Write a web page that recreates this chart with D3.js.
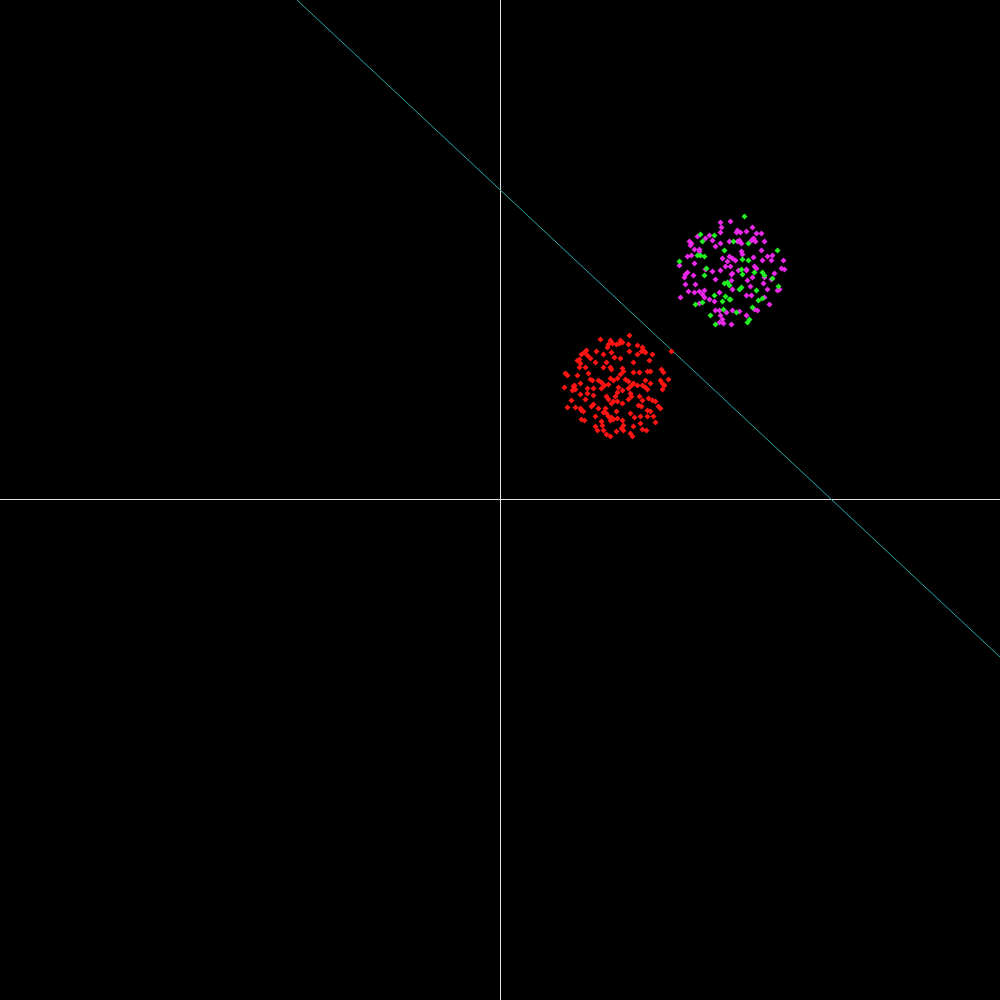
<!DOCTYPE html>
<html><head><meta charset="utf-8">
<script src="https://cdn.jsdelivr.net/npm/d3@7"></script>
<style>html,body{margin:0;padding:0;background:#000;}svg{display:block;}</style>
</head><body>
<svg id="chart" width="1000" height="1000"></svg>
<script>
// Class A (red)
const redPoints = [
[0.200,0.322],[0.220,0.320],[0.216,0.312],[0.224,0.314],[0.214,0.306],[0.232,0.312],[0.172,0.300],[0.168,0.296],[0.162,0.292],[0.192,0.298],
[0.206,0.292],[0.222,0.296],[0.228,0.286],[0.174,0.290],[0.180,0.284],[0.154,0.280],[0.160,0.274],[0.158,0.282],[0.190,0.276],[0.212,0.276],
[0.220,0.266],[0.222,0.262],[0.206,0.266],[0.170,0.266],[0.158,0.266],[0.130,0.254],[0.134,0.250],[0.154,0.250],[0.176,0.254],[0.160,0.234],
[0.180,0.242],[0.184,0.240],[0.196,0.240],[0.202,0.236],[0.220,0.244],[0.226,0.240],[0.148,0.230],[0.208,0.230],[0.216,0.232],
[0.258,0.330],[0.240,0.320],[0.238,0.314],[0.244,0.316],[0.256,0.312],[0.274,0.310],[0.284,0.306],[0.286,0.300],[0.290,0.296],[0.282,0.298],
[0.258,0.298],[0.274,0.292],[0.304,0.292],[0.298,0.280],[0.240,0.284],[0.266,0.276],[0.342,0.298],[0.244,0.264],[0.246,0.258],[0.240,0.252],
[0.266,0.256],[0.278,0.256],[0.294,0.258],[0.300,0.258],[0.322,0.262],[0.326,0.256],[0.250,0.242],[0.256,0.238],[0.290,0.240],[0.320,0.240],
[0.336,0.242],[0.266,0.234],[0.274,0.230],[0.300,0.234],[0.324,0.234],[0.234,0.244],
[0.128,0.226],[0.146,0.228],[0.150,0.222],[0.144,0.220],[0.174,0.224],[0.186,0.224],[0.202,0.224],[0.160,0.212],[0.174,0.214],[0.186,0.210],
[0.212,0.208],[0.216,0.202],[0.230,0.208],[0.142,0.200],[0.170,0.202],[0.186,0.192],[0.182,0.188],[0.196,0.184],[0.210,0.184],[0.222,0.194],
[0.226,0.198],[0.134,0.186],[0.150,0.186],[0.160,0.184],[0.166,0.178],[0.162,0.180],[0.212,0.174],[0.216,0.168],[0.222,0.166],[0.226,0.162],
[0.190,0.168],[0.206,0.176],[0.232,0.178],[0.162,0.162],[0.168,0.160],[0.202,0.158],[0.204,0.150],[0.220,0.160],[0.190,0.148],[0.194,0.140],
[0.206,0.140],[0.212,0.132],[0.220,0.128],[0.232,0.138],
[0.236,0.226],[0.244,0.220],[0.256,0.224],[0.262,0.230],[0.284,0.230],[0.290,0.226],[0.294,0.222],[0.324,0.222],[0.328,0.230],[0.234,0.216],
[0.260,0.214],[0.262,0.208],[0.278,0.208],[0.296,0.204],[0.304,0.200],[0.310,0.198],[0.284,0.200],[0.256,0.202],[0.234,0.198],[0.244,0.194],
[0.276,0.190],[0.282,0.188],[0.316,0.188],[0.320,0.184],[0.294,0.180],[0.300,0.178],[0.260,0.174],[0.280,0.168],[0.268,0.166],[0.294,0.168],
[0.306,0.168],[0.310,0.156],[0.234,0.164],[0.244,0.160],[0.246,0.150],[0.242,0.144],[0.246,0.140],[0.266,0.148],[0.280,0.154],[0.284,0.142],
[0.260,0.134],[0.264,0.128],[0.292,0.140]
];
// Class B (magenta)
const magentaPoints = [
[0.440,0.556],[0.460,0.558],[0.442,0.546],[0.440,0.536],[0.418,0.530],[0.410,0.524],[0.394,0.528],[0.378,0.518],[0.382,0.514],[0.380,0.510],
[0.424,0.520],[0.430,0.508],[0.440,0.514],[0.458,0.518],[0.388,0.502],[0.398,0.502],[0.398,0.498],[0.374,0.488],[0.382,0.490],[0.388,0.474],
[0.358,0.470],[0.444,0.484],[0.454,0.478],[0.450,0.468],[0.460,0.468],[0.458,0.488],
[0.504,0.546],[0.474,0.540],[0.480,0.536],[0.472,0.536],[0.492,0.538],[0.512,0.534],[0.522,0.534],[0.474,0.518],[0.482,0.514],[0.478,0.520],
[0.502,0.520],[0.506,0.524],[0.510,0.518],[0.528,0.518],[0.522,0.500],[0.482,0.498],[0.484,0.492],[0.464,0.484],[0.470,0.480],[0.506,0.486],
[0.524,0.480],[0.534,0.488],[0.544,0.490],[0.542,0.480],[0.566,0.480],[0.508,0.468],[0.562,0.464],[0.492,0.462],
[0.370,0.452],[0.374,0.456],[0.368,0.446],[0.386,0.450],[0.410,0.462],[0.424,0.458],[0.440,0.460],[0.462,0.452],[0.430,0.442],[0.370,0.432],
[0.390,0.432],[0.376,0.418],[0.388,0.416],[0.398,0.418],[0.408,0.420],[0.404,0.412],[0.408,0.406],[0.418,0.402],[0.438,0.416],[0.360,0.406],
[0.428,0.398],[0.398,0.394],[0.430,0.380],[0.438,0.380],[0.452,0.376],[0.440,0.370],[0.444,0.362],[0.438,0.356],[0.446,0.354],
[0.464,0.454],[0.476,0.460],[0.492,0.460],[0.512,0.464],[0.568,0.462],[0.548,0.454],[0.462,0.440],[0.494,0.440],[0.504,0.446],[0.528,0.446],
[0.542,0.442],[0.464,0.422],[0.500,0.428],[0.526,0.434],[0.534,0.422],[0.554,0.420],[0.558,0.422],[0.492,0.410],[0.502,0.410],[0.528,0.406],
[0.538,0.392],[0.508,0.382],[0.514,0.380],[0.464,0.380],[0.478,0.378],[0.492,0.370],[0.462,0.352]
];
// Class B subset (green)
const greenPoints = [
[0.400,0.532],[0.428,0.530],[0.404,0.518],[0.448,0.500],[0.394,0.490],[0.400,0.490],[0.408,0.488],[0.358,0.478],[0.412,0.464],
[0.488,0.568],[0.466,0.518],[0.496,0.514],[0.554,0.500],[0.496,0.480],[0.484,0.482],[0.482,0.462],
[0.408,0.450],[0.448,0.434],[0.454,0.436],[0.458,0.430],[0.428,0.410],[0.444,0.398],[0.450,0.408],[0.458,0.402],[0.390,0.392],[0.404,0.396],
[0.420,0.370],[0.446,0.382],[0.430,0.352],
[0.484,0.452],[0.508,0.456],[0.524,0.456],[0.528,0.450],[0.544,0.444],[0.482,0.426],[0.478,0.422],[0.512,0.420],[0.556,0.428],[0.460,0.402],
[0.516,0.400],[0.524,0.404],[0.504,0.386],[0.472,0.376],[0.498,0.362],[0.494,0.356]
];
// Decision boundary endpoints
const boundary = [[-0.406, 1.0], [1.0, -0.314]];
const xDomain = [-1, 1];
const yDomain = [-1, 1];

const W = 1000, H = 1000;
const svg = d3.select("#chart");
svg.append("rect").attr("width", W).attr("height", H).attr("fill", "#000");
const x = d3.scaleLinear().domain(xDomain).range([0, W]);
const y = d3.scaleLinear().domain(yDomain).range([H, 0]);

// axes through origin
svg.append("line").attr("x1", x(0) + 0.5).attr("x2", x(0) + 0.5).attr("y1", 0).attr("y2", H)
  .attr("stroke", "#e6e6e6").attr("stroke-width", 1);
svg.append("line").attr("x1", 0).attr("x2", W).attr("y1", y(0) - 0.5).attr("y2", y(0) - 0.5)
  .attr("stroke", "#e6e6e6").attr("stroke-width", 1);

svg.append("path").datum(boundary)
  .attr("d", d3.line().x(d => x(d[0])).y(d => y(d[1])))
  .attr("stroke", "#2aa7a7").attr("stroke-width", 1).attr("fill", "none");

const diamond = {
  draw(ctx, size) {
    const r = Math.sqrt(size / 2);
    ctx.moveTo(0, -r); ctx.lineTo(r, 0); ctx.lineTo(0, r); ctx.lineTo(-r, 0); ctx.closePath();
  }
};
const sym = d3.symbol().type(diamond).size(18);
function drawPts(data, color) {
  svg.append("g").selectAll("path").data(data).join("path")
    .attr("transform", d => `translate(${x(d[0]) + 0.5},${y(d[1]) + 0.5})`)
    .attr("d", sym).attr("fill", color);
}
drawPts(redPoints, "#ff1414");
drawPts(magentaPoints, "#ea28ea");
drawPts(greenPoints, "#22f022");
</script>
</body></html>
